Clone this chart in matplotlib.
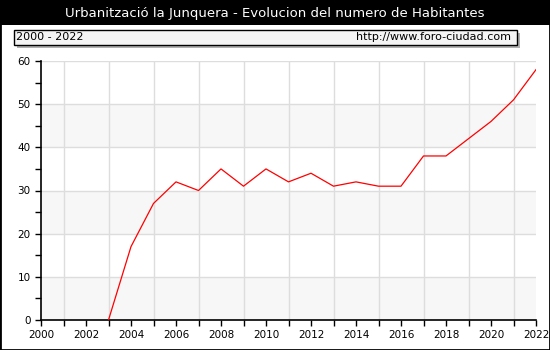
import matplotlib
matplotlib.use("Agg")
import matplotlib.pyplot as plt
from matplotlib.patches import Rectangle

years = [2003, 2004, 2005, 2006, 2007, 2008, 2009, 2010, 2011, 2012,
         2013, 2014, 2015, 2016, 2017, 2018, 2019, 2020, 2021, 2022]
habitantes = [0, 17, 27, 32, 30, 35, 31, 35, 32, 34,
              31, 32, 31, 31, 38, 38, 42, 46, 51, 58]
x_ticks = list(range(2000, 2023, 2))
y_ticks = [0, 10, 20, 30, 40, 50, 60]

title = "Urbanització la Junquera - Evolucion del numero de Habitantes"
period = "2000 - 2022"
url = "http://www.foro-ciudad.com"

W, H = 550, 350
fig = plt.figure(figsize=(W / 100, H / 100), dpi=100)
fig.patch.set_facecolor("white")

# outer border and title bar
fig.add_artist(Rectangle((0, 0), 1, 1, transform=fig.transFigure,
                         fill=False, edgecolor="black", linewidth=2))
fig.add_artist(Rectangle((0, 1 - 25 / H), 1, 25 / H, transform=fig.transFigure,
                         facecolor="black", edgecolor="none"))
fig.text(0.5, 1 - 13 / H, title, color="white", ha="center", va="center",
         fontsize=9.5)

# info box with shadow
bx, by, bw, bh = 14 / W, 1 - 45 / H, 503 / W, 15 / H
fig.add_artist(Rectangle((bx + 3 / W, by - 3 / H), bw, bh, transform=fig.transFigure,
                         facecolor="#b0b0b0", edgecolor="none"))
fig.add_artist(Rectangle((bx, by), bw, bh, transform=fig.transFigure,
                         facecolor="#f4f4f4", edgecolor="black", linewidth=1))
fig.text(bx + 2 / W, by + bh / 2, period, ha="left", va="center", fontsize=8)
fig.text(bx + bw - 6 / W, by + bh / 2, url, ha="right", va="center", fontsize=8)

ax = fig.add_axes([41 / W, 1 - 320 / H, (536 - 41) / W, (320 - 61) / H])
ax.set_xlim(2000, 2022)
ax.set_ylim(0, 60)

# alternating bands
for i in range(0, 60, 20):
    ax.axhspan(i, i + 10, color="#f7f7f7", zorder=0, linewidth=0)

ax.set_xticks(x_ticks)
ax.set_xticks(range(2000, 2023), minor=True)
ax.set_yticks(y_ticks)
ax.set_yticks(range(0, 61, 5), minor=True)
ax.grid(True, which="major", axis="y", color="#dddddd", linewidth=1, zorder=1)
ax.grid(True, which="minor", axis="x", color="#dddddd", linewidth=1, zorder=1)
ax.set_axisbelow(True)

ax.plot(years, habitantes, color="red", linewidth=0.9, zorder=3)

for s in ["top", "right"]:
    ax.spines[s].set_visible(False)
ax.spines["left"].set_linewidth(1.2)
ax.spines["bottom"].set_linewidth(1.2)
ax.tick_params(which="both", direction="out", length=4, width=1, labelsize=7.5)
ax.tick_params(axis="x", pad=3)

fig.savefig("out.png", dpi=100)
